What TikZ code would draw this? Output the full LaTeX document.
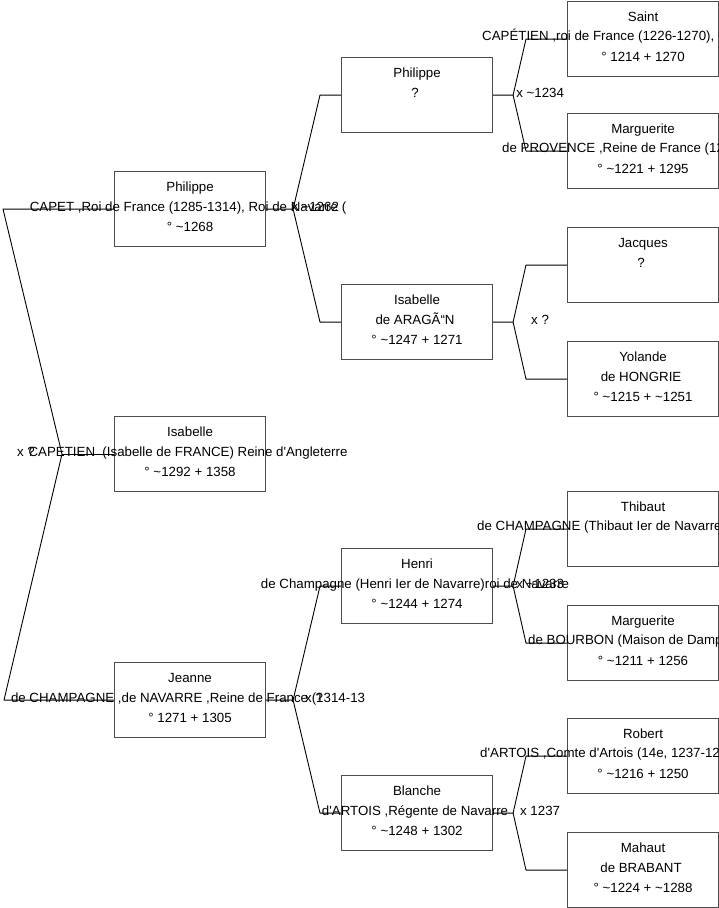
\documentclass[tikz,border=0pt]{standalone}
\usepackage{fontspec}
\newfontfamily\gfont{Liberation Sans}
\tikzstyle{pbox}=[draw=black!70,line width=1.1pt,minimum width=151pt,minimum height=75pt,inner sep=0pt,anchor=north west]
\tikzstyle{ptext}=[font=\gfont\fontsize{13.3}{15}\selectfont,inner sep=0pt,text height=9.5pt,text depth=0pt]
\tikzstyle{link}=[line width=0.9pt,line join=round]
% box with its three lines
\newcommand{\person}[6]{%
	\node[pbox] (#1) at (#2,#3) {};
	\node[ptext] at ([yshift=22.5pt]#1.center) {#4};
	\node[ptext] at ([xshift=-2pt,yshift=2.5pt]#1.center) {#5};
	\node[ptext] at ([yshift=-17.5pt]#1.center) {#6};
}
\newcommand{\tl}{\textasciitilde}

\begin{document}
\begin{tikzpicture}[x=1pt,y=-1pt]
\useasboundingbox (0,0) rectangle (719,908);
\clip (0,0) rectangle (719,908);
\fill[white] (0,0) rectangle (719,908);
%Generation 1 (and the root)
	\person{philippeA}{114}{171}{Philippe}{CAPET ,Roi de France (1285-1314), Roi de Navarre (}{° \tl1268}
	\person{isabelleA}{114}{416}{Isabelle}{CAPETIEN\ \ (Isabelle de FRANCE) Reine d'Angleterre}{° \tl1292 + 1358}
	\person{jeanne}{114}{662}{Jeanne}{de CHAMPAGNE ,de NAVARRE ,Reine de France (1314-13}{° 1271 + 1305}
%Generation 2
	\person{philippeB}{341}{57}{Philippe}{?}{}
	\person{isabelleB}{341}{284}{Isabelle}{de ARAGÃ“N}{° \tl1247 + 1271}
	\person{henri}{341}{548}{Henri}{de Champagne (Henri Ier de Navarre)roi de Navarre}{° \tl1244 + 1274}
	\person{blanche}{341}{775}{Blanche}{d'ARTOIS ,Régente de Navarre}{° \tl1248 + 1302}
%Generation 3 (cut at the right edge)
	\person{saint}{567}{1}{Saint}{}{° 1214 + 1270}
	\node[ptext,anchor=west] at (482,36) {CAPÉTIEN ,roi de France (1226-1270),};
	\person{margueriteP}{567}{113}{Marguerite}{}{° \tl1221 + 1295}
	\node[ptext,anchor=west] at (502,148) {de PROVENCE ,Reine de France (12};
	\person{jacques}{567}{227}{Jacques}{?}{}
	\person{yolande}{567}{341}{Yolande}{de HONGRIE}{° \tl1215 + \tl1251}
	\person{thibaut}{567}{491}{Thibaut}{}{}
	\node[ptext,anchor=west] at (477,526) {de CHAMPAGNE (Thibaut Ier de Navarre};
	\person{margueriteB}{567}{605}{Marguerite}{}{° \tl1211 + 1256}
	\node[ptext,anchor=west] at (528,640) {de BOURBON (Maison de Damp};
	\person{robert}{567}{718}{Robert}{}{° \tl1216 + 1250}
	\node[ptext,anchor=west] at (480,753) {d'ARTOIS ,Comte d'Artois (14e, 1237-12};
	\person{mahaut}{567}{832}{Mahaut}{de BRABANT}{° \tl1224 + \tl1288}
%Root fork
	\coordinate (rootv) at ([xshift=-52pt]isabelleA.west);
	\draw[link] (philippeA.west) --++(-111,0) -- (rootv) -- ([xshift=-110pt]jeanne.west) -- (jeanne.west);
	\draw[link] (isabelleA.west) -- (rootv);
	\node[ptext] at ([xshift=-36pt,yshift=2pt]rootv) {x ?};
%Forks to generation 2
	\draw[link] (philippeA.east) --++(27,0) coordinate (v1) -- ([xshift=-21pt]philippeB.west) -- (philippeB.west);
	\draw[link] (v1) -- ([xshift=-21pt]isabelleB.west) -- (isabelleB.west);
	\node[ptext] at ([xshift=22pt,yshift=2pt]v1) {x \tl1262};
	\draw[link] (jeanne.east) --++(27,0) coordinate (v2) -- ([xshift=-21pt]henri.west) -- (henri.west);
	\draw[link] (v2) -- ([xshift=-21pt]blanche.west) -- (blanche.west);
	\node[ptext] at ([xshift=21pt,yshift=2pt]v2) {x ?};
%Forks to generation 3
	\draw[link] (philippeB.east) --++(20,0) coordinate (v3) -- ([xshift=-41pt]saint.west) -- (saint.west);
	\draw[link] (v3) -- ([xshift=-41pt]margueriteP.west) -- (margueriteP.west);
	\node[ptext] at ([xshift=27pt,yshift=2pt]v3) {x \tl1234};
	\draw[link] (isabelleB.east) --++(20,0) coordinate (v4) -- ([xshift=-41pt]jacques.west) -- (jacques.west);
	\draw[link] (v4) -- ([xshift=-41pt]yolande.west) -- (yolande.west);
	\node[ptext] at ([xshift=27pt,yshift=2pt]v4) {x ?};
	\draw[link] (henri.east) --++(20,0) coordinate (v5) -- ([xshift=-41pt]thibaut.west) -- (thibaut.west);
	\draw[link] (v5) -- ([xshift=-41pt]margueriteB.west) -- (margueriteB.west);
	\node[ptext] at ([xshift=27pt,yshift=2pt]v5) {x \tl1233};
	\draw[link] (blanche.east) --++(20,0) coordinate (v6) -- ([xshift=-41pt]robert.west) -- (robert.west);
	\draw[link] (v6) -- ([xshift=-41pt]mahaut.west) -- (mahaut.west);
	\node[ptext] at ([xshift=27pt,yshift=2pt]v6) {x 1237};
\end{tikzpicture}
\end{document}
